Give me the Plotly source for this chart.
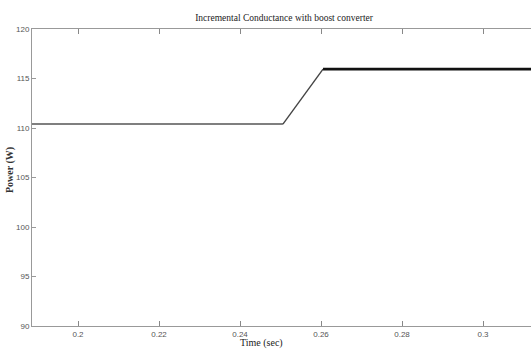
import plotly.graph_objects as go

# Data
time_low = [0.1886, 0.2506]
power_low = [110.4, 110.4]
time_ramp = [0.2506, 0.2605]
power_ramp = [110.4, 115.95]
time_high = [0.2605, 0.3125]
power_high = [115.95, 115.95]

x_ticks = [0.2, 0.22, 0.24, 0.26, 0.28, 0.3]
x_tick_labels = ["0.2", "0.22", "0.24", "0.26", "0.28", "0.3"]
y_ticks = [90, 95, 100, 105, 110, 115, 120]
y_tick_labels = ["90", "95", "100", "105", "110", "115", "120"]

fig = go.Figure()
fig.add_trace(go.Scatter(x=time_low, y=power_low, mode="lines",
                         line=dict(color="#555555", width=1.6), showlegend=False))
fig.add_trace(go.Scatter(x=time_ramp, y=power_ramp, mode="lines",
                         line=dict(color="#444444", width=1.4), showlegend=False))
fig.add_trace(go.Scatter(x=time_high, y=power_high, mode="lines",
                         line=dict(color="#111111", width=2.6), showlegend=False))

fig.update_layout(
    width=531, height=349,
    margin=dict(l=32, r=0, t=29, b=23, autoexpand=False),
    paper_bgcolor="white", plot_bgcolor="white",
    title=dict(text="Incremental Conductance with boost converter",
               font=dict(family="Liberation Serif", size=9.5, color="#222222"),
               x=0.535, xanchor="center", y=0.948, yanchor="middle"),
    xaxis=dict(range=[0.18864, 0.31185], tickvals=x_ticks, ticktext=x_tick_labels,
               ticks="inside", ticklen=5, tickcolor="#888888", showgrid=False,
               zeroline=False, showline=True, linecolor="#999999", mirror="ticks",
               automargin=False,
               tickfont=dict(family="Liberation Sans Narrow, Liberation Sans", size=8, color="#555555")),
    yaxis=dict(range=[90, 120], tickvals=y_ticks, ticktext=y_tick_labels,
               ticks="inside", ticklen=4, tickcolor="#999999", showgrid=False,
               zeroline=False, showline=True, linecolor="#999999", mirror=False,
               automargin=False,
               tickfont=dict(family="Liberation Sans Narrow, Liberation Sans", size=8, color="#555555")),
    annotations=[
        dict(text="Time (sec)", xref="paper", yref="paper", x=0.46, y=-0.057,
             xanchor="center", yanchor="middle", showarrow=False,
             font=dict(family="Liberation Serif", size=10, color="#222222")),
        dict(text="<b>Power (W)</b>", xref="paper", yref="paper", x=-0.044, y=0.525,
             xanchor="center", yanchor="middle", showarrow=False, textangle=-90,
             font=dict(family="Liberation Serif", size=10, color="#333333")),
    ],
)

fig.write_html("out.html", config={"displayModeBar": False},
               post_script="document.body.style.margin='0px';")
